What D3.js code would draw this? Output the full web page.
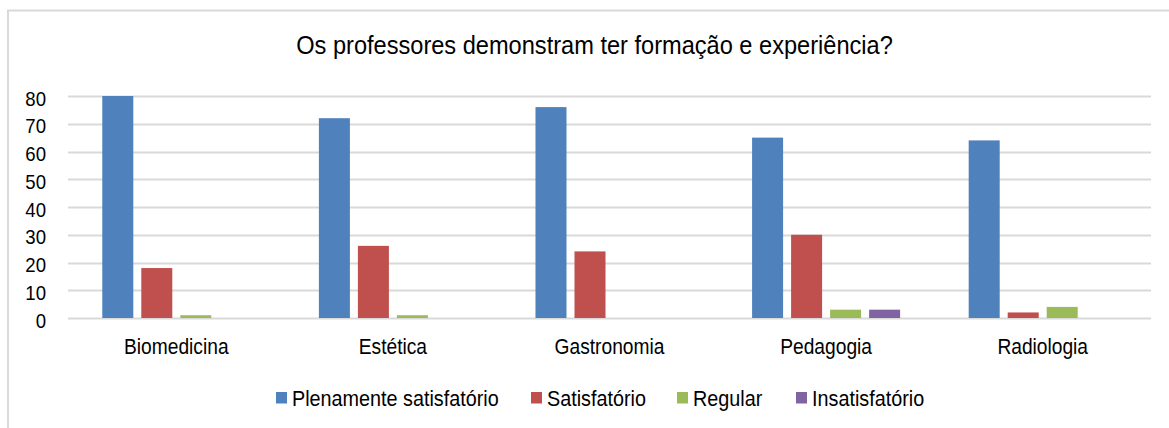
<!DOCTYPE html>
<html>
<head>
<meta charset="utf-8">
<script src="https://cdn.jsdelivr.net/npm/d3@7"></script>
<style>
  html, body { margin: 0; padding: 0; background: #fff; }
  svg { display: block; font-family: "Liberation Sans", Arial, sans-serif; }
</style>
</head>
<body>
<svg id="chart" width="1169" height="428"></svg>
<script>
// Survey answers per course
const title = "Os professores demonstram ter formação e experiência?";
const categories = ["Biomedicina", "Estética", "Gastronomia", "Pedagogia", "Radiologia"];
const seriesNames = ["Plenamente satisfatório", "Satisfatório", "Regular", "Insatisfatório"];
const plenamente = [80, 72, 76, 65, 64];
const satisfatorio = [18, 26, 24, 30, 2];
const regular = [1, 1, 0, 3, 4];
const insatisfatorio = [0, 0, 0, 3, 0];
const yTicks = [0, 10, 20, 30, 40, 50, 60, 70, 80];
const colors = ["#4F81BD", "#C0504D", "#9BBB59", "#8064A2"];

const seriesValues = [plenamente, satisfatorio, regular, insatisfatorio];

const svg = d3.select("#chart");
const W = 1169, H = 428;
const STRETCH = 1.13; // text is drawn slightly taller than wide

// outer chart frame
svg.append("rect")
  .attr("x", 8).attr("y", 10.5)
  .attr("width", W + 10).attr("height", H + 10)
  .attr("fill", "none").attr("stroke", "#D9D9D9").attr("stroke-width", 2);

const plot = { left: 68, right: 1151, top: 96, bottom: 318 };

const x0 = d3.scaleBand().domain(categories).range([plot.left, plot.right]).paddingInner(0).paddingOuter(0);
const x1 = d3.scaleBand().domain(seriesNames).range([0, x0.bandwidth()]).paddingInner(0.205).paddingOuter(0.879);
const y = d3.scaleLinear().domain([0, 80]).range([plot.bottom, plot.top]);

// horizontal gridlines
svg.append("g").selectAll("line").data(yTicks).join("line")
  .attr("x1", plot.left).attr("x2", plot.right)
  .attr("y1", d => Math.round(y(d)) + 0.5).attr("y2", d => Math.round(y(d)) + 0.5)
  .attr("stroke", "#D9D9D9").attr("stroke-width", 2);

// y-axis tick labels
const yAxis = d3.axisLeft(y).tickValues(yTicks).tickSize(0).tickPadding(0);
const gy = svg.append("g").attr("transform", `translate(46,0)`).call(yAxis);
gy.select(".domain").remove();
gy.selectAll("text")
  .attr("font-size", 18.6).attr("fill", "#000")
  .attr("font-family", "'Liberation Sans', Arial, sans-serif")
  .attr("x", 0).attr("dy", null).attr("y", 0)
  .attr("transform", `translate(0,9) scale(1,${STRETCH})`);

// bars
const groups = svg.append("g").selectAll("g").data(categories).join("g")
  .attr("transform", d => `translate(${x0(d)},0)`);
groups.selectAll("rect")
  .data((c, i) => seriesNames.map((s, k) => ({ s, k, v: seriesValues[k][i] })))
  .join("rect")
  .filter(d => d.v > 0)
  .attr("x", d => x1(d.s))
  .attr("width", x1.bandwidth())
  .attr("y", d => y(d.v))
  .attr("height", d => y(0) - y(d.v))
  .attr("fill", d => colors[d.k]);

// category labels
const xAxis = d3.axisBottom(x0).tickSize(0).tickPadding(0);
const gx = svg.append("g").attr("transform", `translate(0,0)`).call(xAxis);
gx.select(".domain").remove();
gx.selectAll("text")
  .attr("font-size", 19.2).attr("fill", "#000")
  .attr("font-family", "'Liberation Sans', Arial, sans-serif")
  .attr("y", 0).attr("dy", null)
  .attr("transform", `translate(0,353.5) scale(1,${STRETCH})`);

// title
svg.append("text")
  .attr("transform", `translate(594.5,53.5) scale(1,${STRETCH})`)
  .attr("text-anchor", "middle")
  .attr("font-size", 23.6).attr("fill", "#000")
  .text(title);

// legend
const legendX = [276, 531, 677, 796];
const legend = svg.append("g").selectAll("g").data(seriesNames).join("g")
  .attr("transform", (d, i) => `translate(${legendX[i]},0)`);
legend.append("rect")
  .attr("x", 0).attr("y", 392).attr("width", 11).attr("height", 11.5)
  .attr("fill", (d, i) => colors[i]);
legend.append("text")
  .attr("transform", `translate(16,405.5) scale(1,${STRETCH})`)
  .attr("font-size", 19.8).attr("fill", "#000")
  .text(d => d);
</script>
</body>
</html>
